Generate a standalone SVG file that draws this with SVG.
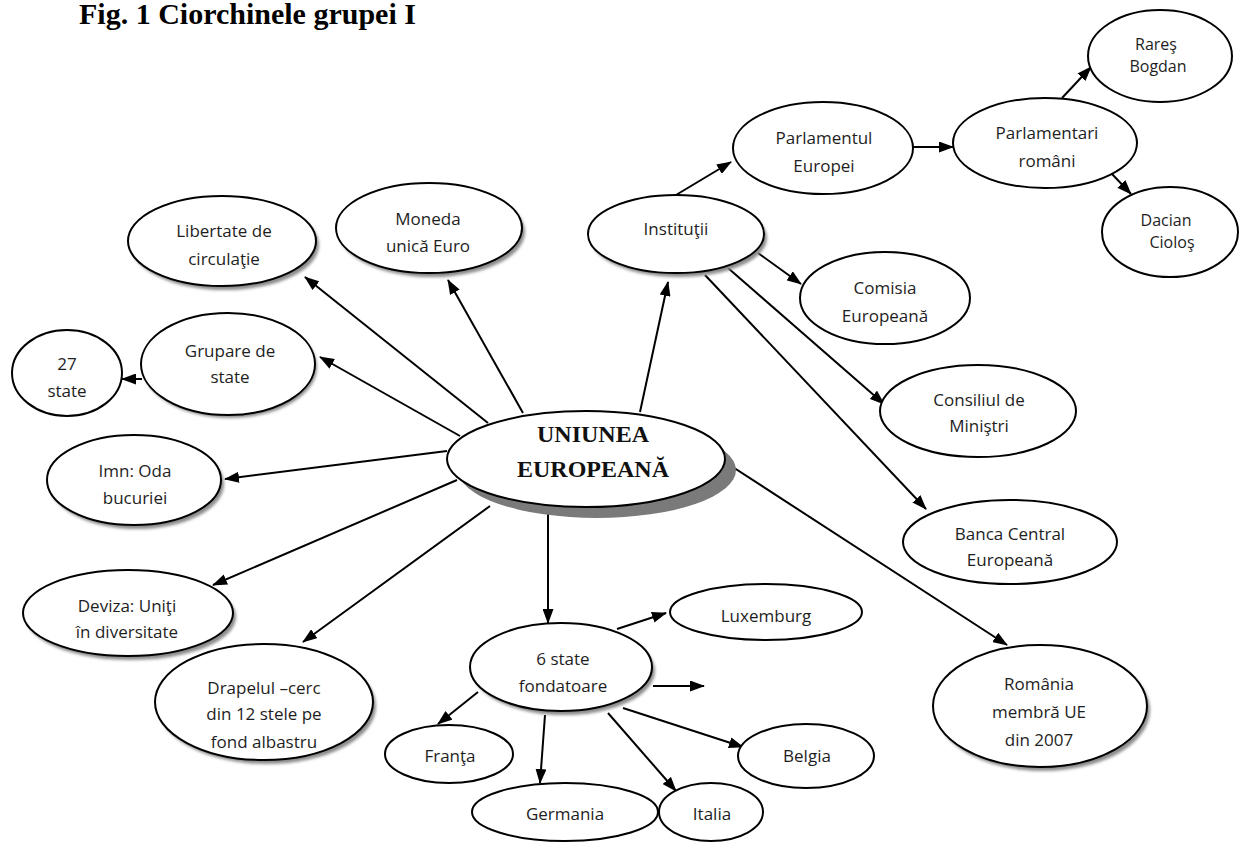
<svg xmlns="http://www.w3.org/2000/svg" width="1252" height="843" viewBox="0 0 1252 843">
<defs>
<marker id="arr" markerUnits="userSpaceOnUse" markerWidth="15" markerHeight="11" refX="14" refY="5.5" orient="auto">
<path d="M0,0 L15,5.5 L0,11 z" fill="#000"/>
</marker>
<filter id="soft" x="-10%" y="-10%" width="130%" height="130%"><feGaussianBlur stdDeviation="1.5"/></filter>
</defs>
<style>
.n{fill:#fff;stroke:#000;stroke-width:2}
.sh{fill:#8c8c8c;filter:url(#soft)}
.t{font-family:"Open Sans","Noto Sans",sans-serif;font-size:17px;fill:#1e1e1e;text-anchor:middle}
.s{font-size:16px}
.c line{stroke:#000;stroke-width:2;marker-end:url(#arr)}
.title{font-family:"Liberation Serif","Times New Roman",serif;font-weight:bold;font-size:30px;fill:#000}
.big{font-family:"Liberation Serif","Times New Roman",serif;font-weight:bold;font-size:24px;fill:#111;text-anchor:middle}
</style>
<rect width="1252" height="843" fill="#fff"/>
<text class="title" x="79" y="24">Fig. 1 Ciorchinele grupei I</text>

<g id="connectors" class="c">
<line x1="488" y1="423" x2="305" y2="277"/>
<line x1="523" y1="413" x2="448" y2="280"/>
<line x1="640" y1="412" x2="668" y2="282"/>
<line x1="460" y1="436" x2="320" y2="357"/>
<line x1="447" y1="451" x2="225" y2="479"/>
<line x1="457" y1="480" x2="213" y2="585"/>
<line x1="490" y1="506" x2="303" y2="642"/>
<line x1="548" y1="508" x2="548" y2="623"/>
<line x1="725" y1="462" x2="1007" y2="645"/>
<line x1="676" y1="195" x2="731" y2="162"/>
<line x1="913" y1="147" x2="953" y2="147"/>
<line x1="1062" y1="98" x2="1091" y2="67"/>
<line x1="1112" y1="174" x2="1131" y2="194"/>
<line x1="758" y1="253" x2="801" y2="284"/>
<line x1="728" y1="268" x2="884" y2="404"/>
<line x1="705" y1="275" x2="926" y2="509"/>
<line x1="617" y1="629" x2="666" y2="613"/>
<line x1="653" y1="686" x2="704" y2="686"/>
<line x1="478" y1="692" x2="438" y2="724"/>
<line x1="545" y1="715" x2="540" y2="783"/>
<line x1="608" y1="713" x2="676" y2="791"/>
<line x1="623" y1="708" x2="743" y2="747"/>
<line x1="142" y1="379" x2="122" y2="379"/>
</g>

<g id="ue">
<ellipse cx="597" cy="470" rx="139" ry="48" fill="#7a7a7a"/>
<ellipse class="n" cx="586" cy="459" rx="139" ry="48"/>
<text class="big" x="593" y="442">UNIUNEA</text>
<text class="big" x="593" y="477">EUROPEANĂ</text>
</g>

<g id="moneda">
<ellipse class="sh" cx="432" cy="232" rx="93" ry="45"/>
<ellipse class="n" cx="429" cy="228" rx="93" ry="45"/>
<text class="t" x="428" y="225">Moneda</text>
<text class="t" x="428" y="252">unică Euro</text>
</g>

<g id="institutii">
<ellipse class="sh" cx="679" cy="238" rx="88" ry="39"/>
<ellipse class="n" cx="676" cy="234" rx="88" ry="39"/>
<text class="t" x="676" y="235">Instituţii</text>
</g>

<g id="libertate">
<ellipse class="sh" cx="225" cy="245" rx="94" ry="45"/>
<ellipse class="n" cx="222" cy="241" rx="94" ry="45"/>
<text class="t" x="224" y="237">Libertate de</text>
<text class="t" x="224" y="265">circulaţie</text>
</g>

<g id="grupare">
<ellipse class="sh" cx="230" cy="367" rx="87" ry="51"/>
<ellipse class="n" cx="228" cy="364" rx="87" ry="51"/>
<text class="t" x="230" y="357">Grupare de</text>
<text class="t" x="230" y="383">state</text>
</g>

<g id="state27">
<ellipse class="n" cx="67" cy="373" rx="55" ry="43"/>
<text class="t" x="67" y="370">27</text>
<text class="t" x="67" y="397">state</text>
</g>

<g id="imn">
<ellipse class="sh" cx="137" cy="484" rx="87" ry="45"/>
<ellipse class="n" cx="134" cy="480" rx="87" ry="45"/>
<text class="t" x="135" y="477">Imn: Oda</text>
<text class="t" x="135" y="504">bucuriei</text>
</g>

<g id="deviza">
<ellipse class="sh" cx="131" cy="617" rx="105" ry="43"/>
<ellipse class="n" cx="128" cy="613" rx="105" ry="43"/>
<text class="t" x="127" y="612">Deviza: Uniţi</text>
<text class="t" x="127" y="638">în diversitate</text>
</g>

<g id="drapelul">
<ellipse class="sh" cx="267" cy="706" rx="109" ry="58"/>
<ellipse class="n" cx="264" cy="702" rx="109" ry="58"/>
<text class="t" x="264" y="694">Drapelul –cerc</text>
<text class="t" x="264" y="720">din 12 stele pe</text>
<text class="t" x="264" y="748">fond albastru</text>
</g>

<g id="fondatoare">
<ellipse class="sh" cx="564" cy="671" rx="91" ry="44"/>
<ellipse class="n" cx="561" cy="667" rx="91" ry="44"/>
<text class="t" x="563" y="665">6 state</text>
<text class="t" x="563" y="692">fondatoare</text>
</g>

<g id="luxemburg">
<ellipse class="n" cx="766" cy="612" rx="96" ry="28"/>
<text class="t" x="766" y="622">Luxemburg</text>
</g>

<g id="franta">
<ellipse class="n" cx="449" cy="754" rx="64" ry="29"/>
<text class="t" x="450" y="762">Franţa</text>
</g>

<g id="germania">
<ellipse class="n" cx="565" cy="812" rx="93" ry="29"/>
<text class="t" x="565" y="820">Germania</text>
</g>

<g id="italia">
<ellipse class="n" cx="711" cy="812" rx="52" ry="29"/>
<text class="t" x="712" y="820">Italia</text>
</g>

<g id="belgia">
<ellipse class="n" cx="806" cy="756" rx="68" ry="32"/>
<text class="t" x="807" y="762">Belgia</text>
</g>

<g id="parlamentul">
<ellipse class="n" cx="823" cy="148" rx="90" ry="46"/>
<text class="t" x="824" y="144">Parlamentul</text>
<text class="t" x="824" y="172">Europei</text>
</g>

<g id="parlamentari">
<ellipse class="n" cx="1045" cy="143" rx="92" ry="45"/>
<text class="t" x="1047" y="139">Parlamentari</text>
<text class="t" x="1047" y="167">români</text>
</g>

<g id="rares">
<ellipse class="n" cx="1160" cy="56" rx="72" ry="46"/>
<text class="t s" x="1156" y="50">Rareş</text>
<text class="t s" x="1158" y="72">Bogdan</text>
</g>

<g id="dacian">
<ellipse class="n" cx="1170" cy="232" rx="68" ry="45"/>
<text class="t s" x="1166" y="226">Dacian</text>
<text class="t s" x="1172" y="248">Cioloş</text>
</g>

<g id="comisia">
<ellipse class="n" cx="885" cy="298" rx="85" ry="46"/>
<text class="t" x="885" y="294">Comisia</text>
<text class="t" x="885" y="322">Europeană</text>
</g>

<g id="consiliul">
<ellipse class="n" cx="978" cy="411" rx="98" ry="46"/>
<text class="t" x="979" y="406">Consiliul de</text>
<text class="t" x="979" y="432">Miniştri</text>
</g>

<g id="banca">
<ellipse class="n" cx="1010" cy="542" rx="107" ry="42"/>
<text class="t" x="1010" y="540">Banca Central</text>
<text class="t" x="1010" y="566">Europeană</text>
</g>

<g id="romania">
<ellipse class="sh" cx="1043" cy="710" rx="107" ry="61"/>
<ellipse class="n" cx="1040" cy="706" rx="107" ry="61"/>
<text class="t" x="1039" y="690">România</text>
<text class="t" x="1039" y="718">membră UE</text>
<text class="t" x="1039" y="746">din 2007</text>
</g>
</svg>
